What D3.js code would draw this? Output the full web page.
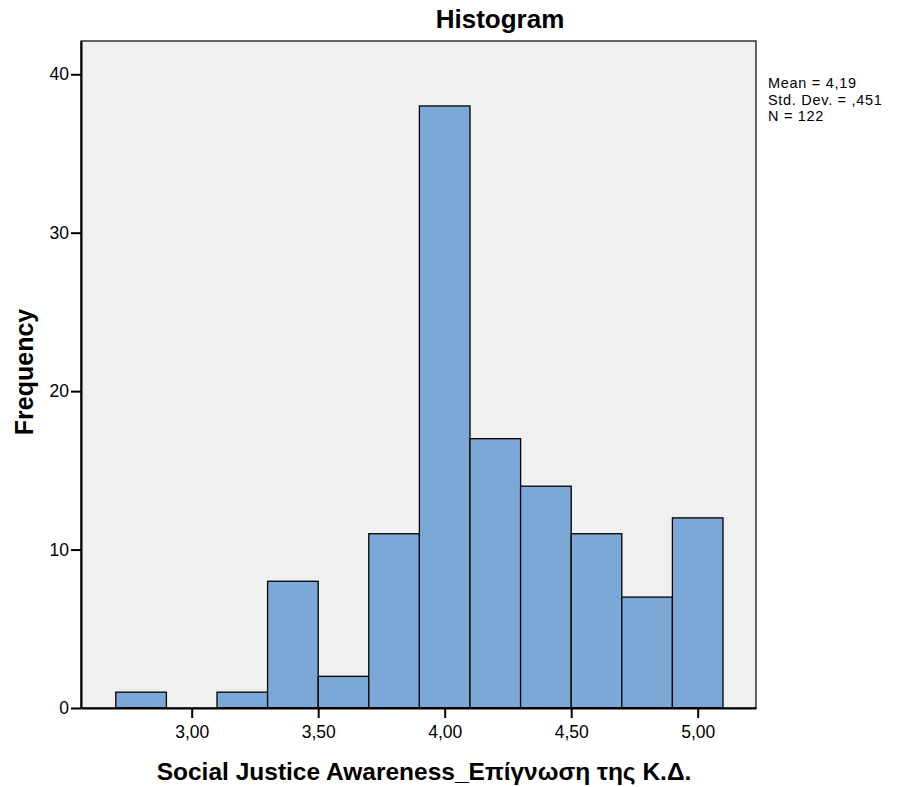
<!DOCTYPE html>
<html lang="en">
<head>
  <meta charset="UTF-8">
  <title>Histogram</title>
  <script src="https://d3js.org/d3.v7.min.js"></script>
  <style>
    * { margin: 0; padding: 0; }
    body { background: #fff; }
    text { font-family: "Liberation Sans", Arial, sans-serif; fill: #000; }
  </style>
</head>
<body>
  <svg id="chart" width="897" height="787"></svg>
  <script>
    // bins of width 0.2, lower edges
    var binStarts = [2.7, 2.9, 3.1, 3.3, 3.5, 3.7, 3.9, 4.1, 4.3, 4.5, 4.7, 4.9];
    var counts = [1, 0, 1, 8, 2, 11, 38, 17, 14, 11, 7, 12];
    var binWidth = 0.2;
    var xTicks = [3.0, 3.5, 4.0, 4.5, 5.0];
    var yTicks = [0, 10, 20, 30, 40];
    var statLines = ["Mean = 4,19", "Std. Dev. = ,451", "N = 122"];

    var bins = binStarts.map(function(s, i) { return { x0: s, x1: s + binWidth, n: counts[i] }; });

    var svg = d3.select('#chart');
    var pLeft = 81, pRight = 756, pTop = 41, pBottom = 708;

    var x = d3.scaleLinear().domain([2.5625, 5.2304]).range([pLeft, pRight]);
    var y = d3.scaleLinear().domain([0, 42.1]).range([pBottom, pTop]);

    svg.append('rect')
      .attr('x', pLeft).attr('y', pTop)
      .attr('width', pRight - pLeft).attr('height', pBottom - pTop)
      .attr('fill', '#f0f0f0');

    svg.selectAll('rect.bar')
      .data(bins.filter(function(b) { return b.n > 0; }))
      .enter().append('rect')
      .attr('class', 'bar')
      .attr('x', function(d) { return x(d.x0); })
      .attr('y', function(d) { return y(d.n); })
      .attr('width', function(d) { return x(d.x1) - x(d.x0); })
      .attr('height', function(d) { return y(0) - y(d.n); })
      .attr('fill', '#7ba8d6')
      .attr('stroke', '#000')
      .attr('stroke-width', 1.3);

    // frame
    svg.append('rect')
      .attr('x', pLeft).attr('y', pTop)
      .attr('width', pRight - pLeft).attr('height', pBottom - pTop)
      .attr('fill', 'none').attr('stroke', '#000').attr('stroke-width', 1.2);

    var xAxis = svg.append('g')
      .attr('transform', 'translate(0,' + pBottom + ')')
      .call(d3.axisBottom(x).tickValues(xTicks).tickSize(10).tickSizeOuter(0).tickPadding(8)
        .tickFormat(function(d) { return d3.format('.2f')(d).replace('.', ','); }));
    var yAxis = svg.append('g')
      .attr('transform', 'translate(' + pLeft + ',0)')
      .call(d3.axisLeft(y).tickValues(yTicks).tickSize(10).tickSizeOuter(0).tickPadding(2));
    [xAxis, yAxis].forEach(function(a) {
      a.attr('font-size', null).attr('font-family', null);
      a.select('.domain').attr('stroke', '#000').attr('stroke-width', 2);
      a.selectAll('.tick line').attr('stroke', '#000').attr('stroke-width', 2);
      a.selectAll('.tick text').style('font-size', '17.5px').attr('fill', '#000');
    });

    svg.append('text')
      .attr('x', 500).attr('y', 28)
      .attr('text-anchor', 'middle')
      .style('font-size', '26px').style('font-weight', 'bold')
      .text('Histogram');

    svg.append('text')
      .attr('x', 424).attr('y', 780)
      .attr('text-anchor', 'middle')
      .style('font-size', '24.5px').style('font-weight', 'bold')
      .text('Social Justice Awareness_Επίγνωση της Κ.Δ.');

    svg.append('text')
      .attr('transform', 'translate(33,372) rotate(-90)')
      .attr('text-anchor', 'middle')
      .style('font-size', '25px').style('font-weight', 'bold')
      .text('Frequency');

    svg.append('g').selectAll('text')
      .data(statLines)
      .enter().append('text')
      .attr('x', 768)
      .attr('y', function(d, i) { return 88 + i * 16.5; })
      .style('font-size', '14.5px')
      .style('letter-spacing', '0.7px')
      .text(function(d) { return d; });
  </script>
</body>
</html>
